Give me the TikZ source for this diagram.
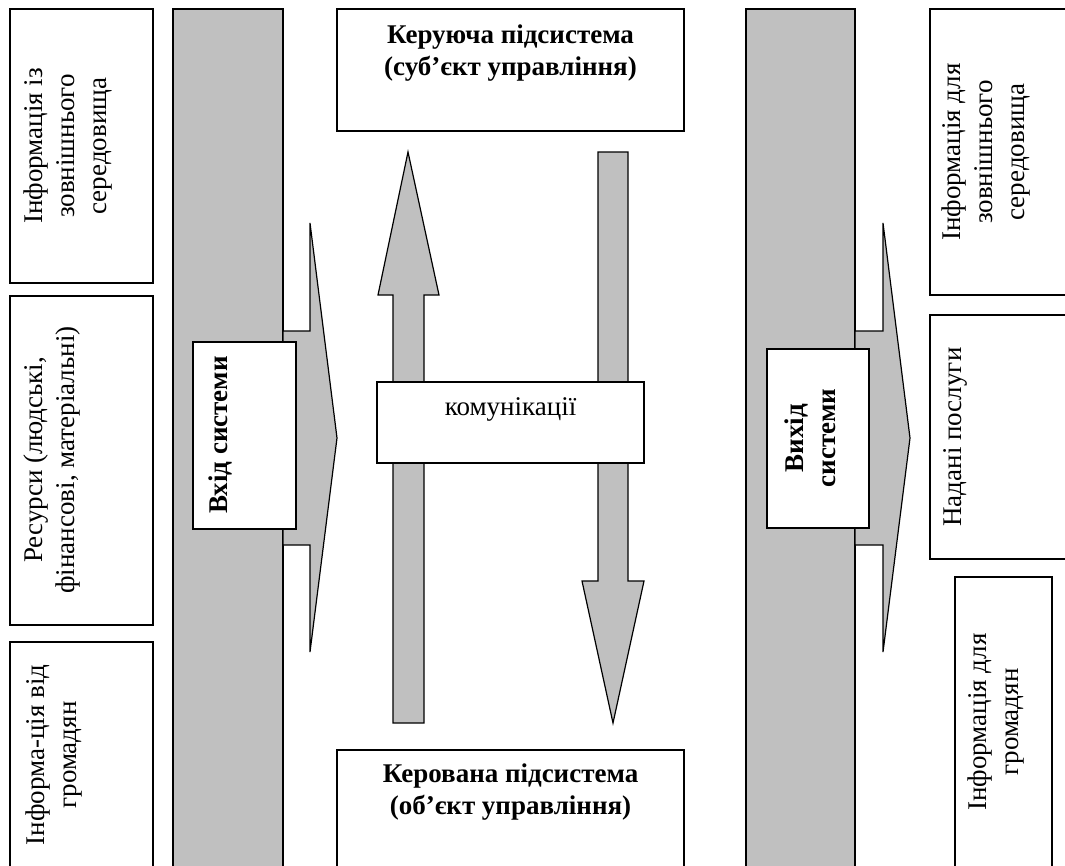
\documentclass[tikz,border=0pt]{standalone}
\usepackage{fontspec}
\setmainfont{Liberation Serif}
\definecolor{barfill}{RGB}{192,192,192}
\begin{document}
\begin{tikzpicture}[x=1pt,y=-1pt,
  box/.style={draw=black, line width=1.2pt, fill=white},
  greyshape/.style={draw=black, line width=1.2pt, fill=barfill, line join=miter},
  txt/.style={font=\fontsize{27}{32}\selectfont, align=center, inner sep=0pt},
  btxt/.style={font=\fontsize{27}{32}\selectfont\bfseries, align=center, inner sep=0pt},
  vtxt/.style={txt, rotate=90},
  vbtxt/.style={btxt, rotate=90}]
\useasboundingbox (0,0) rectangle (1065,865);
\clip (0,0) rectangle (1065,865);

% left input boxes
\draw[box] (10,9) rectangle (153,283);
\draw[box] (10,296) rectangle (153,625);
\draw[box] (10,642) rectangle (153,890);
\node[vtxt] (inEnv) at (68,146) {Інформація із\\зовнішнього\\середовища};
\node[vtxt] (inRes) at (52,460) {Ресурси (людські,\\фінансові, матеріальні)};
\node[vtxt] (inCit) at (54,755) {Інформа-ція від\\громадян};

% left grey column and input arrow
\draw[greyshape] (173,9) rectangle (283,890);
\draw[greyshape] (283,331) -- (310,331) -- (310,223) -- (337,438) -- (310,652) -- (310,545) -- (283,545) -- cycle;
\draw[box] (193,342) rectangle (296,529);
\node[vbtxt] (vhid) at (220,435) {Вхід системи};

% top and bottom subsystems
\draw[box] (337,9) rectangle (684,131);
\node[btxt] (keruyucha) at (510.5,53) {Керуюча підсистема\\(суб’єкт управління)};
\draw[box] (337,750) rectangle (684,890);
\node[btxt] (kerovana) at (510.5,792) {Керована підсистема\\(об’єкт управління)};

% vertical block arrows
\draw[greyshape] (393,723) -- (393,295) -- (378,295) -- (408,152) -- (439,295) -- (424,295) -- (424,723) -- cycle;
\draw[greyshape] (598,152) -- (628,152) -- (628,581) -- (644,581) -- (613,723) -- (582,581) -- (598,581) -- cycle;

% communications box
\draw[box] (377,382) rectangle (644,463);
\node[txt] (komun) at (510.5,409) {комунікації};

% right grey column and output arrow
\draw[greyshape] (746,9) rectangle (855,890);
\draw[greyshape] (855,331) -- (883,331) -- (883,223) -- (910,438) -- (883,652) -- (883,545) -- (855,545) -- cycle;
\draw[box] (767,349) rectangle (869,528);
\node[vbtxt] (vyhid) at (810,438) {Вихід\\системи};

% right output boxes
\draw[box] (930,9) rectangle (1090,295);
\draw[box] (930,315) rectangle (1090,559);
\draw[box] (955,577) rectangle (1052,890);
\node[vtxt] (outEnv) at (986,152) {Інформація для\\зовнішнього\\середовища};
\node[vtxt] (outServ) at (955,437) {Надані послуги};
\node[vtxt] (outCit) at (996,722) {Інформація для\\громадян};
\end{tikzpicture}
\end{document}
